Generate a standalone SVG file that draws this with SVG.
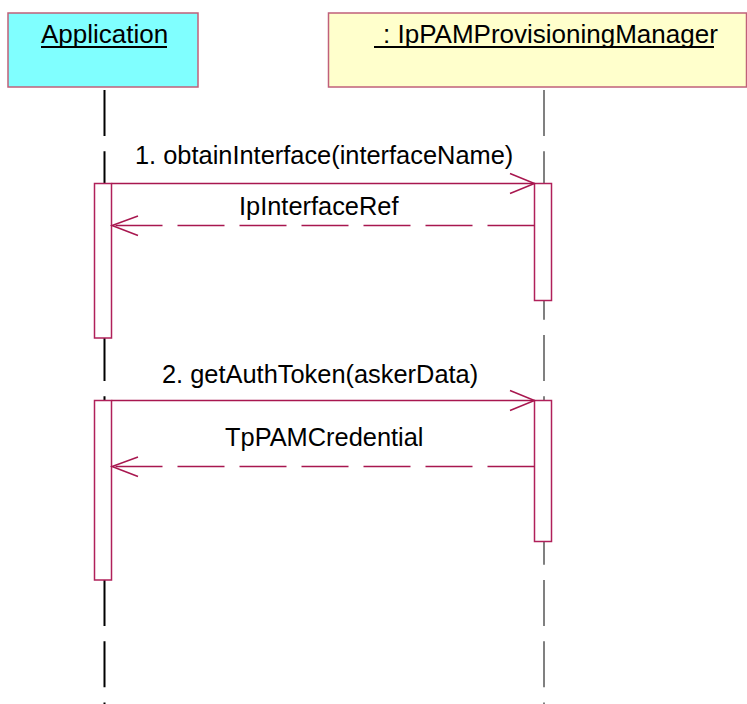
<svg xmlns="http://www.w3.org/2000/svg" width="747" height="704" viewBox="0 0 747 704">
<defs>
<style>
.box{stroke:#C0607A;stroke-width:1.5}
.hdr{font-family:"Liberation Sans",Arial,sans-serif;font-size:26px;fill:#000}
.ul{stroke:#000;stroke-width:2}
.life{fill:none;stroke-width:2;stroke-dasharray:46 15.25}
.act{fill:#fff;stroke:#B0205A;stroke-width:1.5}
.msg{fill:none;stroke:#A8174F;stroke-width:1.5}
.ret{stroke-dasharray:47 15}
.lbl{font-family:"Liberation Sans",Arial,sans-serif;font-size:25.4px;fill:#000}
</style>
</defs>
<g id="lifelines">
<line class="life" x1="104.5" y1="90" x2="104.5" y2="704" stroke="#000"/>
<line class="life" x1="544" y1="90" x2="544" y2="704" stroke="#808080"/>
</g>
<g id="node-application">
<rect class="box" x="8" y="13" width="190" height="74" fill="#80FFFF"/>
<text class="hdr" x="41" y="43">Application</text>
<line class="ul" x1="41" y1="47" x2="167" y2="47"/>
</g>
<g id="node-manager">
<rect class="box" x="328.5" y="13" width="418" height="74" fill="#FFFFCC"/>
<text class="hdr" x="383" y="43">: IpPAMProvisioningManager</text>
<line class="ul" x1="374" y1="47" x2="714" y2="47"/>
</g>
<g id="activations">
<rect class="act" x="94.5" y="183.5" width="17" height="154.5"/>
<rect class="act" x="534.5" y="183.5" width="17" height="117"/>
<rect class="act" x="94.5" y="400.5" width="17" height="179.5"/>
<rect class="act" x="534.5" y="400.5" width="17" height="141"/>
</g>
<g id="connectors">
<line class="msg" x1="111.5" y1="183.5" x2="534.5" y2="183.5"/>
<polyline class="msg" points="510,173.5 534.5,183.5 510,193.5"/>
<line class="msg ret" x1="534.5" y1="225.5" x2="111.5" y2="225.5"/>
<polyline class="msg" points="138,216 112,225.5 138,235.5"/>
<line class="msg" x1="111.5" y1="400.5" x2="534.5" y2="400.5"/>
<polyline class="msg" points="510,390.5 534.5,400.5 510,410.5"/>
<line class="msg ret" x1="534.5" y1="466.5" x2="111.5" y2="466.5"/>
<polyline class="msg" points="138,457 112,466.5 138,476.5"/>
</g>
<g id="labels">
<text class="lbl" x="135" y="164">1. obtainInterface(interfaceName)</text>
<text class="lbl" x="239" y="215">IpInterfaceRef</text>
<text class="lbl" x="162" y="383">2. getAuthToken(askerData)</text>
<text class="lbl" x="225" y="446">TpPAMCredential</text>
</g>
</svg>
